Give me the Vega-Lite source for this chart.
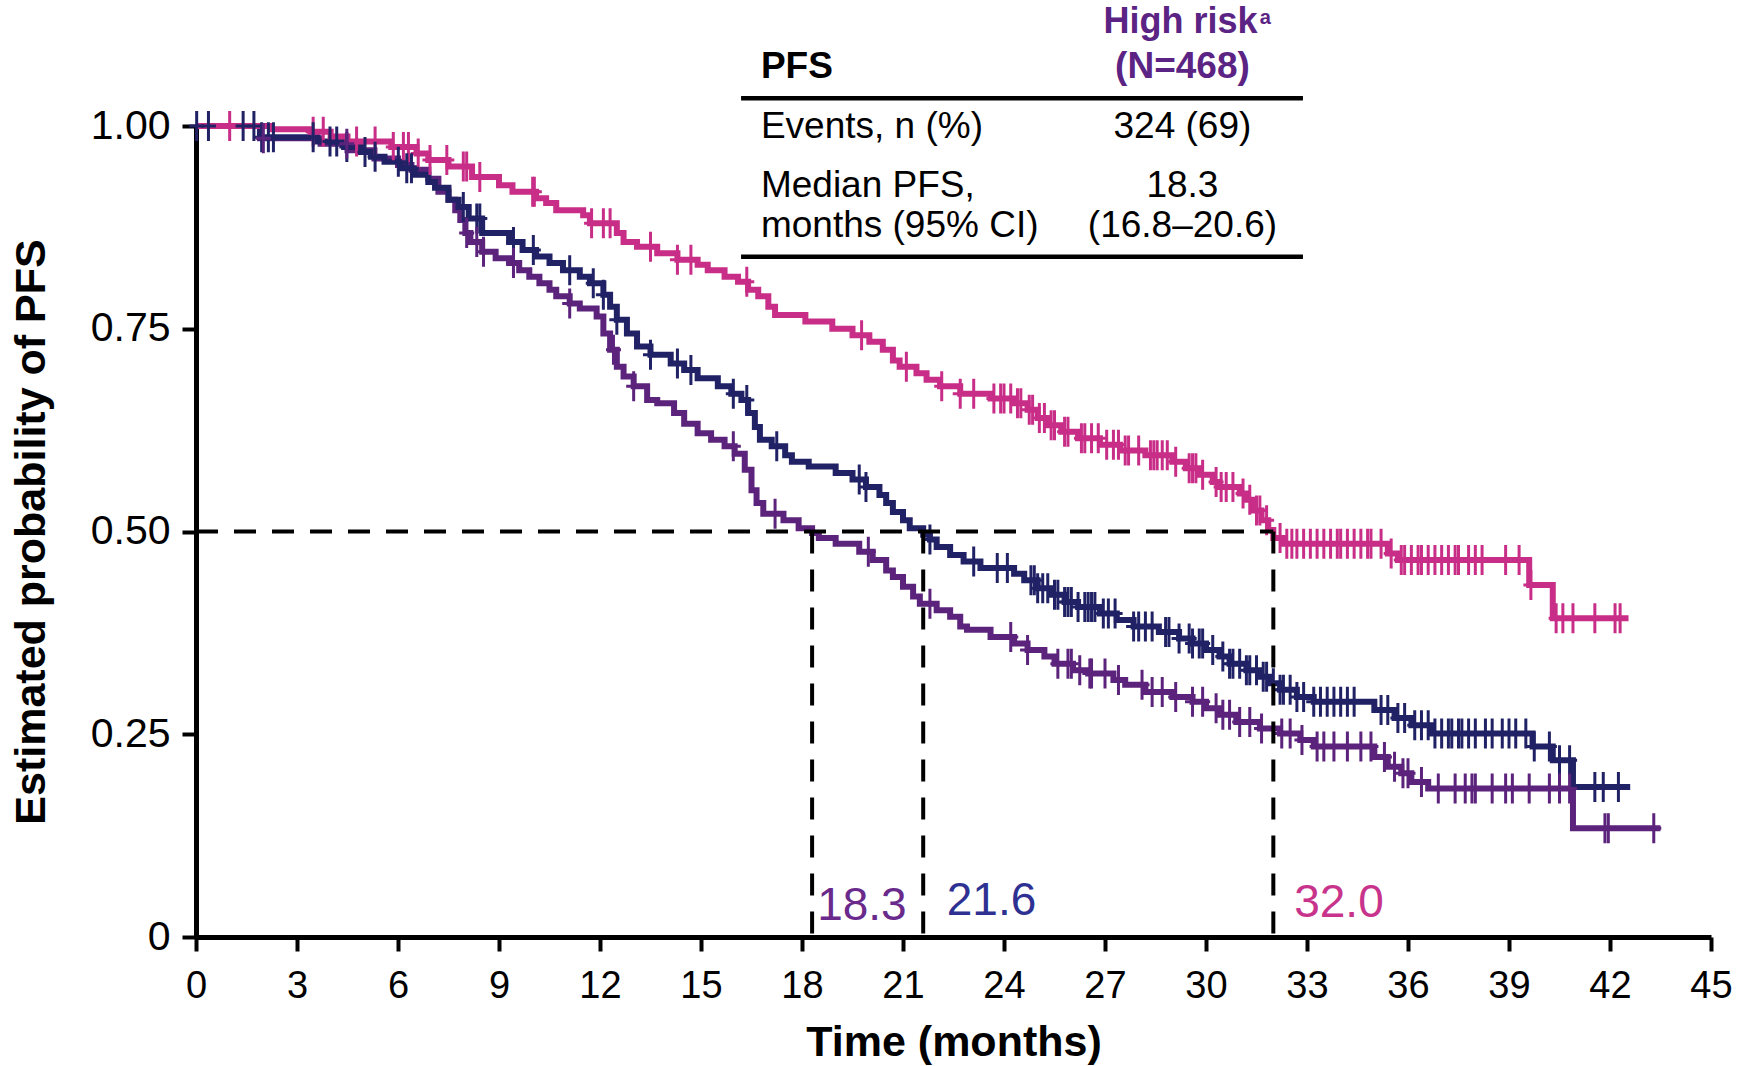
{
  "$schema": "https://vega.github.io/schema/vega-lite/v6.json",
  "width": 1515,
  "height": 811,
  "autosize": {"type": "none"},
  "padding": {"left": 196, "top": 126, "right": 37, "bottom": 129},
  "background": "white",
  "data": {"values": [{"row": 1}]},
  "config": {
    "view": {"stroke": null},
    "font": "Liberation Sans",
    "axis": {"grid": false, "domainColor": "black", "domainWidth": 5, "tickColor": "black", "tickWidth": 4, "tickSize": 14, "labelColor": "black", "titleColor": "black", "labelFont": "Liberation Sans", "titleFont": "Liberation Sans", "labelFontSize": 38, "titleFontSize": 43, "titleFontWeight": "bold"}
  },
  "datasets": {
    "curves": [
      {"arm":"High risk","t":0,"s":1.0},{"arm":"High risk","t":1.9,"s":0.985},{"arm":"High risk","t":3.7,"s":0.978},{"arm":"High risk","t":4.5,"s":0.970},{"arm":"High risk","t":5.3,"s":0.960},{"arm":"High risk","t":6.0,"s":0.952},{"arm":"High risk","t":6.4,"s":0.946},{"arm":"High risk","t":6.9,"s":0.935},{"arm":"High risk","t":7.2,"s":0.919},{"arm":"High risk","t":7.5,"s":0.909},{"arm":"High risk","t":7.7,"s":0.896},{"arm":"High risk","t":7.85,"s":0.884},{"arm":"High risk","t":8.0,"s":0.868},{"arm":"High risk","t":8.15,"s":0.857},{"arm":"High risk","t":8.5,"s":0.845},{"arm":"High risk","t":8.9,"s":0.837},{"arm":"High risk","t":9.3,"s":0.831},{"arm":"High risk","t":9.6,"s":0.822},{"arm":"High risk","t":9.9,"s":0.814},{"arm":"High risk","t":10.2,"s":0.806},{"arm":"High risk","t":10.5,"s":0.798},{"arm":"High risk","t":10.7,"s":0.790},{"arm":"High risk","t":11.1,"s":0.781},{"arm":"High risk","t":11.4,"s":0.775},{"arm":"High risk","t":11.9,"s":0.765},{"arm":"High risk","t":12.1,"s":0.744},{"arm":"High risk","t":12.3,"s":0.724},{"arm":"High risk","t":12.5,"s":0.703},{"arm":"High risk","t":12.7,"s":0.691},{"arm":"High risk","t":13.0,"s":0.679},{"arm":"High risk","t":13.4,"s":0.662},{"arm":"High risk","t":13.7,"s":0.658},{"arm":"High risk","t":14.2,"s":0.646},{"arm":"High risk","t":14.5,"s":0.633},{"arm":"High risk","t":14.9,"s":0.621},{"arm":"High risk","t":15.3,"s":0.613},{"arm":"High risk","t":15.7,"s":0.605},{"arm":"High risk","t":16.0,"s":0.596},{"arm":"High risk","t":16.3,"s":0.576},{"arm":"High risk","t":16.5,"s":0.551},{"arm":"High risk","t":16.65,"s":0.535},{"arm":"High risk","t":16.85,"s":0.522},{"arm":"High risk","t":17.45,"s":0.514},{"arm":"High risk","t":17.9,"s":0.504},{"arm":"High risk","t":18.3,"s":0.498},{"arm":"High risk","t":18.5,"s":0.492},{"arm":"High risk","t":19.0,"s":0.485},{"arm":"High risk","t":19.7,"s":0.475},{"arm":"High risk","t":20.1,"s":0.465},{"arm":"High risk","t":20.5,"s":0.452},{"arm":"High risk","t":20.7,"s":0.444},{"arm":"High risk","t":21.0,"s":0.432},{"arm":"High risk","t":21.3,"s":0.420},{"arm":"High risk","t":21.5,"s":0.411},{"arm":"High risk","t":22.0,"s":0.403},{"arm":"High risk","t":22.4,"s":0.395},{"arm":"High risk","t":22.7,"s":0.383},{"arm":"High risk","t":22.9,"s":0.379},{"arm":"High risk","t":23.6,"s":0.370},{"arm":"High risk","t":24.3,"s":0.362},{"arm":"High risk","t":24.7,"s":0.354},{"arm":"High risk","t":25.2,"s":0.346},{"arm":"High risk","t":25.5,"s":0.337},{"arm":"High risk","t":26.05,"s":0.329},{"arm":"High risk","t":26.5,"s":0.325},{"arm":"High risk","t":27.25,"s":0.317},{"arm":"High risk","t":27.6,"s":0.311},{"arm":"High risk","t":28.2,"s":0.302},{"arm":"High risk","t":29.0,"s":0.296},{"arm":"High risk","t":29.6,"s":0.290},{"arm":"High risk","t":30.0,"s":0.282},{"arm":"High risk","t":30.4,"s":0.274},{"arm":"High risk","t":30.9,"s":0.265},{"arm":"High risk","t":31.6,"s":0.257},{"arm":"High risk","t":32.2,"s":0.251},{"arm":"High risk","t":32.8,"s":0.243},{"arm":"High risk","t":33.2,"s":0.235},{"arm":"High risk","t":35.0,"s":0.222},{"arm":"High risk","t":35.4,"s":0.210},{"arm":"High risk","t":35.8,"s":0.202},{"arm":"High risk","t":36.1,"s":0.191},{"arm":"High risk","t":36.6,"s":0.183},{"arm":"High risk","t":40.9,"s":0.134},{"arm":"High risk","t":43.5,"s":0.134},
      {"arm":"Curve 2","t":0,"s":1.0},{"arm":"Curve 2","t":1.9,"s":0.986},{"arm":"Curve 2","t":3.6,"s":0.981},{"arm":"Curve 2","t":4.4,"s":0.974},{"arm":"Curve 2","t":4.9,"s":0.968},{"arm":"Curve 2","t":5.2,"s":0.962},{"arm":"Curve 2","t":5.6,"s":0.956},{"arm":"Curve 2","t":6.1,"s":0.948},{"arm":"Curve 2","t":6.5,"s":0.940},{"arm":"Curve 2","t":6.9,"s":0.931},{"arm":"Curve 2","t":7.1,"s":0.924},{"arm":"Curve 2","t":7.5,"s":0.909},{"arm":"Curve 2","t":7.8,"s":0.900},{"arm":"Curve 2","t":8.1,"s":0.886},{"arm":"Curve 2","t":8.5,"s":0.868},{"arm":"Curve 2","t":9.3,"s":0.857},{"arm":"Curve 2","t":9.7,"s":0.847},{"arm":"Curve 2","t":10.1,"s":0.839},{"arm":"Curve 2","t":10.5,"s":0.831},{"arm":"Curve 2","t":10.9,"s":0.822},{"arm":"Curve 2","t":11.4,"s":0.814},{"arm":"Curve 2","t":11.7,"s":0.806},{"arm":"Curve 2","t":12.1,"s":0.792},{"arm":"Curve 2","t":12.3,"s":0.777},{"arm":"Curve 2","t":12.5,"s":0.761},{"arm":"Curve 2","t":12.8,"s":0.744},{"arm":"Curve 2","t":13.1,"s":0.728},{"arm":"Curve 2","t":13.5,"s":0.718},{"arm":"Curve 2","t":14.1,"s":0.707},{"arm":"Curve 2","t":14.5,"s":0.699},{"arm":"Curve 2","t":14.9,"s":0.689},{"arm":"Curve 2","t":15.5,"s":0.679},{"arm":"Curve 2","t":15.9,"s":0.670},{"arm":"Curve 2","t":16.2,"s":0.662},{"arm":"Curve 2","t":16.4,"s":0.646},{"arm":"Curve 2","t":16.6,"s":0.629},{"arm":"Curve 2","t":16.75,"s":0.613},{"arm":"Curve 2","t":17.1,"s":0.605},{"arm":"Curve 2","t":17.5,"s":0.594},{"arm":"Curve 2","t":17.7,"s":0.586},{"arm":"Curve 2","t":18.2,"s":0.580},{"arm":"Curve 2","t":19.0,"s":0.572},{"arm":"Curve 2","t":19.5,"s":0.564},{"arm":"Curve 2","t":19.9,"s":0.555},{"arm":"Curve 2","t":20.3,"s":0.545},{"arm":"Curve 2","t":20.5,"s":0.535},{"arm":"Curve 2","t":20.7,"s":0.524},{"arm":"Curve 2","t":21.0,"s":0.514},{"arm":"Curve 2","t":21.2,"s":0.504},{"arm":"Curve 2","t":21.6,"s":0.496},{"arm":"Curve 2","t":21.8,"s":0.490},{"arm":"Curve 2","t":22.0,"s":0.481},{"arm":"Curve 2","t":22.4,"s":0.471},{"arm":"Curve 2","t":22.8,"s":0.463},{"arm":"Curve 2","t":23.3,"s":0.455},{"arm":"Curve 2","t":24.3,"s":0.448},{"arm":"Curve 2","t":24.6,"s":0.440},{"arm":"Curve 2","t":25.0,"s":0.430},{"arm":"Curve 2","t":25.4,"s":0.422},{"arm":"Curve 2","t":25.8,"s":0.413},{"arm":"Curve 2","t":26.2,"s":0.407},{"arm":"Curve 2","t":26.85,"s":0.399},{"arm":"Curve 2","t":27.35,"s":0.391},{"arm":"Curve 2","t":27.85,"s":0.383},{"arm":"Curve 2","t":28.6,"s":0.376},{"arm":"Curve 2","t":29.2,"s":0.368},{"arm":"Curve 2","t":29.6,"s":0.362},{"arm":"Curve 2","t":30.0,"s":0.354},{"arm":"Curve 2","t":30.4,"s":0.346},{"arm":"Curve 2","t":30.7,"s":0.337},{"arm":"Curve 2","t":31.2,"s":0.329},{"arm":"Curve 2","t":31.6,"s":0.321},{"arm":"Curve 2","t":31.9,"s":0.313},{"arm":"Curve 2","t":32.2,"s":0.305},{"arm":"Curve 2","t":32.7,"s":0.296},{"arm":"Curve 2","t":33.2,"s":0.290},{"arm":"Curve 2","t":35.0,"s":0.280},{"arm":"Curve 2","t":35.6,"s":0.270},{"arm":"Curve 2","t":36.1,"s":0.261},{"arm":"Curve 2","t":36.7,"s":0.251},{"arm":"Curve 2","t":39.7,"s":0.235},{"arm":"Curve 2","t":40.3,"s":0.218},{"arm":"Curve 2","t":40.9,"s":0.185},{"arm":"Curve 2","t":42.6,"s":0.185},
      {"arm":"Curve 3","t":0,"s":1.0},{"arm":"Curve 3","t":2.2,"s":0.996},{"arm":"Curve 3","t":3.4,"s":0.993},{"arm":"Curve 3","t":4.0,"s":0.987},{"arm":"Curve 3","t":4.5,"s":0.981},{"arm":"Curve 3","t":5.8,"s":0.974},{"arm":"Curve 3","t":6.55,"s":0.966},{"arm":"Curve 3","t":6.9,"s":0.958},{"arm":"Curve 3","t":7.5,"s":0.950},{"arm":"Curve 3","t":8.2,"s":0.937},{"arm":"Curve 3","t":9.0,"s":0.927},{"arm":"Curve 3","t":9.4,"s":0.919},{"arm":"Curve 3","t":10.1,"s":0.911},{"arm":"Curve 3","t":10.4,"s":0.905},{"arm":"Curve 3","t":10.7,"s":0.896},{"arm":"Curve 3","t":11.5,"s":0.890},{"arm":"Curve 3","t":11.7,"s":0.880},{"arm":"Curve 3","t":12.5,"s":0.868},{"arm":"Curve 3","t":12.7,"s":0.857},{"arm":"Curve 3","t":13.1,"s":0.851},{"arm":"Curve 3","t":13.7,"s":0.843},{"arm":"Curve 3","t":14.3,"s":0.835},{"arm":"Curve 3","t":14.9,"s":0.829},{"arm":"Curve 3","t":15.2,"s":0.822},{"arm":"Curve 3","t":15.7,"s":0.814},{"arm":"Curve 3","t":16.1,"s":0.808},{"arm":"Curve 3","t":16.4,"s":0.798},{"arm":"Curve 3","t":16.7,"s":0.790},{"arm":"Curve 3","t":17.0,"s":0.777},{"arm":"Curve 3","t":17.2,"s":0.767},{"arm":"Curve 3","t":18.1,"s":0.759},{"arm":"Curve 3","t":18.9,"s":0.750},{"arm":"Curve 3","t":19.5,"s":0.742},{"arm":"Curve 3","t":20.0,"s":0.734},{"arm":"Curve 3","t":20.4,"s":0.724},{"arm":"Curve 3","t":20.7,"s":0.711},{"arm":"Curve 3","t":20.9,"s":0.703},{"arm":"Curve 3","t":21.4,"s":0.695},{"arm":"Curve 3","t":21.7,"s":0.687},{"arm":"Curve 3","t":22.1,"s":0.679},{"arm":"Curve 3","t":22.7,"s":0.670},{"arm":"Curve 3","t":23.6,"s":0.664},{"arm":"Curve 3","t":24.3,"s":0.658},{"arm":"Curve 3","t":24.7,"s":0.650},{"arm":"Curve 3","t":25.0,"s":0.640},{"arm":"Curve 3","t":25.3,"s":0.631},{"arm":"Curve 3","t":25.7,"s":0.623},{"arm":"Curve 3","t":26.2,"s":0.615},{"arm":"Curve 3","t":26.85,"s":0.607},{"arm":"Curve 3","t":27.45,"s":0.600},{"arm":"Curve 3","t":28.2,"s":0.594},{"arm":"Curve 3","t":29.0,"s":0.586},{"arm":"Curve 3","t":29.4,"s":0.578},{"arm":"Curve 3","t":29.8,"s":0.570},{"arm":"Curve 3","t":30.2,"s":0.561},{"arm":"Curve 3","t":30.4,"s":0.555},{"arm":"Curve 3","t":31.0,"s":0.547},{"arm":"Curve 3","t":31.2,"s":0.539},{"arm":"Curve 3","t":31.4,"s":0.526},{"arm":"Curve 3","t":31.65,"s":0.514},{"arm":"Curve 3","t":31.85,"s":0.502},{"arm":"Curve 3","t":32.0,"s":0.492},{"arm":"Curve 3","t":32.3,"s":0.485},{"arm":"Curve 3","t":35.4,"s":0.473},{"arm":"Curve 3","t":35.7,"s":0.465},{"arm":"Curve 3","t":39.6,"s":0.434},{"arm":"Curve 3","t":40.3,"s":0.393},{"arm":"Curve 3","t":42.55,"s":0.393}
    ],
    "censors": [
      {"arm":"Curve 3","t":1.0,"s":1.0},{"arm":"Curve 3","t":3.48,"s":0.993},{"arm":"Curve 3","t":3.78,"s":0.993},{"arm":"Curve 3","t":4.77,"s":0.981},{"arm":"Curve 3","t":5.32,"s":0.981},{"arm":"Curve 3","t":5.86,"s":0.974},{"arm":"Curve 3","t":6.16,"s":0.974},{"arm":"Curve 3","t":6.31,"s":0.974},{"arm":"Curve 3","t":6.6,"s":0.966},{"arm":"Curve 3","t":6.95,"s":0.958},{"arm":"Curve 3","t":7.45,"s":0.958},{"arm":"Curve 3","t":7.94,"s":0.950},{"arm":"Curve 3","t":8.04,"s":0.950},{"arm":"Curve 3","t":8.43,"s":0.937},{"arm":"Curve 3","t":10.0,"s":0.919},{"arm":"Curve 3","t":10.05,"s":0.919},{"arm":"Curve 3","t":11.75,"s":0.880},{"arm":"Curve 3","t":12.1,"s":0.880},{"arm":"Curve 3","t":12.3,"s":0.880},{"arm":"Curve 3","t":13.5,"s":0.851},{"arm":"Curve 3","t":14.3,"s":0.835},{"arm":"Curve 3","t":14.7,"s":0.835},{"arm":"Curve 3","t":16.36,"s":0.808},{"arm":"Curve 3","t":19.77,"s":0.742},{"arm":"Curve 3","t":21.1,"s":0.703},{"arm":"Curve 3","t":22.15,"s":0.679},{"arm":"Curve 3","t":22.7,"s":0.670},{"arm":"Curve 3","t":23.1,"s":0.670},{"arm":"Curve 3","t":23.7,"s":0.664},{"arm":"Curve 3","t":23.9,"s":0.664},{"arm":"Curve 3","t":24.0,"s":0.664},{"arm":"Curve 3","t":24.2,"s":0.664},{"arm":"Curve 3","t":24.4,"s":0.658},{"arm":"Curve 3","t":24.5,"s":0.658},{"arm":"Curve 3","t":24.75,"s":0.650},{"arm":"Curve 3","t":24.85,"s":0.650},{"arm":"Curve 3","t":25.05,"s":0.640},{"arm":"Curve 3","t":25.2,"s":0.640},{"arm":"Curve 3","t":25.4,"s":0.631},{"arm":"Curve 3","t":25.5,"s":0.631},{"arm":"Curve 3","t":25.8,"s":0.623},{"arm":"Curve 3","t":25.9,"s":0.623},{"arm":"Curve 3","t":26.3,"s":0.615},{"arm":"Curve 3","t":26.4,"s":0.615},{"arm":"Curve 3","t":26.6,"s":0.615},{"arm":"Curve 3","t":26.8,"s":0.615},{"arm":"Curve 3","t":27.05,"s":0.607},{"arm":"Curve 3","t":27.25,"s":0.607},{"arm":"Curve 3","t":27.4,"s":0.607},{"arm":"Curve 3","t":27.6,"s":0.600},{"arm":"Curve 3","t":27.7,"s":0.600},{"arm":"Curve 3","t":28.0,"s":0.600},{"arm":"Curve 3","t":28.35,"s":0.594},{"arm":"Curve 3","t":28.45,"s":0.594},{"arm":"Curve 3","t":28.55,"s":0.594},{"arm":"Curve 3","t":28.7,"s":0.594},{"arm":"Curve 3","t":28.85,"s":0.594},{"arm":"Curve 3","t":29.1,"s":0.586},{"arm":"Curve 3","t":29.5,"s":0.578},{"arm":"Curve 3","t":29.6,"s":0.578},{"arm":"Curve 3","t":29.7,"s":0.578},{"arm":"Curve 3","t":29.9,"s":0.570},{"arm":"Curve 3","t":30.3,"s":0.561},{"arm":"Curve 3","t":30.45,"s":0.555},{"arm":"Curve 3","t":30.6,"s":0.555},{"arm":"Curve 3","t":30.8,"s":0.555},{"arm":"Curve 3","t":31.1,"s":0.547},{"arm":"Curve 3","t":31.3,"s":0.539},{"arm":"Curve 3","t":31.5,"s":0.526},{"arm":"Curve 3","t":31.6,"s":0.526},{"arm":"Curve 3","t":31.8,"s":0.514},{"arm":"Curve 3","t":32.2,"s":0.492},{"arm":"Curve 3","t":32.4,"s":0.485},{"arm":"Curve 3","t":32.55,"s":0.485},{"arm":"Curve 3","t":32.7,"s":0.485},{"arm":"Curve 3","t":32.9,"s":0.485},{"arm":"Curve 3","t":33.1,"s":0.485},{"arm":"Curve 3","t":33.3,"s":0.485},{"arm":"Curve 3","t":33.5,"s":0.485},{"arm":"Curve 3","t":33.7,"s":0.485},{"arm":"Curve 3","t":33.9,"s":0.485},{"arm":"Curve 3","t":34.0,"s":0.485},{"arm":"Curve 3","t":34.2,"s":0.485},{"arm":"Curve 3","t":34.4,"s":0.485},{"arm":"Curve 3","t":34.6,"s":0.485},{"arm":"Curve 3","t":34.8,"s":0.485},{"arm":"Curve 3","t":34.9,"s":0.485},{"arm":"Curve 3","t":35.2,"s":0.485},{"arm":"Curve 3","t":35.5,"s":0.473},{"arm":"Curve 3","t":35.8,"s":0.465},{"arm":"Curve 3","t":35.9,"s":0.465},{"arm":"Curve 3","t":36.1,"s":0.465},{"arm":"Curve 3","t":36.3,"s":0.465},{"arm":"Curve 3","t":36.4,"s":0.465},{"arm":"Curve 3","t":36.6,"s":0.465},{"arm":"Curve 3","t":36.8,"s":0.465},{"arm":"Curve 3","t":37.0,"s":0.465},{"arm":"Curve 3","t":37.2,"s":0.465},{"arm":"Curve 3","t":37.4,"s":0.465},{"arm":"Curve 3","t":37.5,"s":0.465},{"arm":"Curve 3","t":37.8,"s":0.465},{"arm":"Curve 3","t":38.0,"s":0.465},{"arm":"Curve 3","t":38.2,"s":0.465},{"arm":"Curve 3","t":38.9,"s":0.465},{"arm":"Curve 3","t":39.3,"s":0.465},{"arm":"Curve 3","t":39.65,"s":0.434},{"arm":"Curve 3","t":40.4,"s":0.393},{"arm":"Curve 3","t":40.6,"s":0.393},{"arm":"Curve 3","t":40.9,"s":0.393},{"arm":"Curve 3","t":41.55,"s":0.393},{"arm":"Curve 3","t":42.15,"s":0.393},{"arm":"Curve 3","t":42.3,"s":0.393},
      {"arm":"Curve 2","t":0.02,"s":1.0},{"arm":"Curve 2","t":0.37,"s":1.0},{"arm":"Curve 2","t":1.4,"s":1.0},{"arm":"Curve 2","t":1.72,"s":1.0},{"arm":"Curve 2","t":1.95,"s":0.986},{"arm":"Curve 2","t":2.15,"s":0.986},{"arm":"Curve 2","t":2.3,"s":0.986},{"arm":"Curve 2","t":3.48,"s":0.986},{"arm":"Curve 2","t":3.98,"s":0.981},{"arm":"Curve 2","t":4.18,"s":0.981},{"arm":"Curve 2","t":4.48,"s":0.974},{"arm":"Curve 2","t":5.02,"s":0.968},{"arm":"Curve 2","t":5.32,"s":0.962},{"arm":"Curve 2","t":6.01,"s":0.956},{"arm":"Curve 2","t":6.26,"s":0.948},{"arm":"Curve 2","t":6.4,"s":0.948},{"arm":"Curve 2","t":7.94,"s":0.900},{"arm":"Curve 2","t":8.34,"s":0.886},{"arm":"Curve 2","t":8.43,"s":0.886},{"arm":"Curve 2","t":9.43,"s":0.857},{"arm":"Curve 2","t":10.02,"s":0.847},{"arm":"Curve 2","t":11.1,"s":0.822},{"arm":"Curve 2","t":11.8,"s":0.806},{"arm":"Curve 2","t":12.1,"s":0.792},{"arm":"Curve 2","t":12.5,"s":0.761},{"arm":"Curve 2","t":13.5,"s":0.718},{"arm":"Curve 2","t":14.3,"s":0.707},{"arm":"Curve 2","t":14.7,"s":0.699},{"arm":"Curve 2","t":15.96,"s":0.670},{"arm":"Curve 2","t":16.36,"s":0.662},{"arm":"Curve 2","t":17.25,"s":0.605},{"arm":"Curve 2","t":19.7,"s":0.564},{"arm":"Curve 2","t":19.9,"s":0.555},{"arm":"Curve 2","t":21.8,"s":0.490},{"arm":"Curve 2","t":23.1,"s":0.463},{"arm":"Curve 2","t":23.8,"s":0.455},{"arm":"Curve 2","t":24.1,"s":0.455},{"arm":"Curve 2","t":24.8,"s":0.440},{"arm":"Curve 2","t":24.9,"s":0.440},{"arm":"Curve 2","t":25.0,"s":0.430},{"arm":"Curve 2","t":25.15,"s":0.430},{"arm":"Curve 2","t":25.3,"s":0.430},{"arm":"Curve 2","t":25.5,"s":0.422},{"arm":"Curve 2","t":25.6,"s":0.422},{"arm":"Curve 2","t":25.8,"s":0.413},{"arm":"Curve 2","t":25.9,"s":0.413},{"arm":"Curve 2","t":26.0,"s":0.413},{"arm":"Curve 2","t":26.2,"s":0.407},{"arm":"Curve 2","t":26.4,"s":0.407},{"arm":"Curve 2","t":26.5,"s":0.407},{"arm":"Curve 2","t":26.6,"s":0.407},{"arm":"Curve 2","t":26.7,"s":0.407},{"arm":"Curve 2","t":26.95,"s":0.399},{"arm":"Curve 2","t":27.1,"s":0.399},{"arm":"Curve 2","t":27.3,"s":0.399},{"arm":"Curve 2","t":27.85,"s":0.383},{"arm":"Curve 2","t":28.0,"s":0.383},{"arm":"Curve 2","t":28.2,"s":0.383},{"arm":"Curve 2","t":28.4,"s":0.383},{"arm":"Curve 2","t":28.8,"s":0.376},{"arm":"Curve 2","t":28.9,"s":0.376},{"arm":"Curve 2","t":29.2,"s":0.368},{"arm":"Curve 2","t":29.5,"s":0.368},{"arm":"Curve 2","t":29.6,"s":0.362},{"arm":"Curve 2","t":29.8,"s":0.362},{"arm":"Curve 2","t":29.9,"s":0.362},{"arm":"Curve 2","t":30.2,"s":0.354},{"arm":"Curve 2","t":30.5,"s":0.346},{"arm":"Curve 2","t":30.7,"s":0.337},{"arm":"Curve 2","t":30.8,"s":0.337},{"arm":"Curve 2","t":31.0,"s":0.337},{"arm":"Curve 2","t":31.2,"s":0.329},{"arm":"Curve 2","t":31.3,"s":0.329},{"arm":"Curve 2","t":31.5,"s":0.329},{"arm":"Curve 2","t":31.7,"s":0.321},{"arm":"Curve 2","t":31.8,"s":0.321},{"arm":"Curve 2","t":32.0,"s":0.313},{"arm":"Curve 2","t":32.2,"s":0.305},{"arm":"Curve 2","t":32.3,"s":0.305},{"arm":"Curve 2","t":32.5,"s":0.305},{"arm":"Curve 2","t":32.7,"s":0.296},{"arm":"Curve 2","t":32.9,"s":0.296},{"arm":"Curve 2","t":33.2,"s":0.290},{"arm":"Curve 2","t":33.4,"s":0.290},{"arm":"Curve 2","t":33.6,"s":0.290},{"arm":"Curve 2","t":33.8,"s":0.290},{"arm":"Curve 2","t":34.0,"s":0.290},{"arm":"Curve 2","t":34.2,"s":0.290},{"arm":"Curve 2","t":34.4,"s":0.290},{"arm":"Curve 2","t":35.2,"s":0.280},{"arm":"Curve 2","t":35.4,"s":0.280},{"arm":"Curve 2","t":35.7,"s":0.270},{"arm":"Curve 2","t":35.9,"s":0.270},{"arm":"Curve 2","t":36.2,"s":0.261},{"arm":"Curve 2","t":36.4,"s":0.261},{"arm":"Curve 2","t":36.6,"s":0.261},{"arm":"Curve 2","t":36.8,"s":0.251},{"arm":"Curve 2","t":37.0,"s":0.251},{"arm":"Curve 2","t":37.2,"s":0.251},{"arm":"Curve 2","t":37.3,"s":0.251},{"arm":"Curve 2","t":37.5,"s":0.251},{"arm":"Curve 2","t":37.6,"s":0.251},{"arm":"Curve 2","t":37.8,"s":0.251},{"arm":"Curve 2","t":38.0,"s":0.251},{"arm":"Curve 2","t":38.3,"s":0.251},{"arm":"Curve 2","t":38.5,"s":0.251},{"arm":"Curve 2","t":38.8,"s":0.251},{"arm":"Curve 2","t":39.0,"s":0.251},{"arm":"Curve 2","t":39.2,"s":0.251},{"arm":"Curve 2","t":39.5,"s":0.251},{"arm":"Curve 2","t":39.75,"s":0.235},{"arm":"Curve 2","t":40.2,"s":0.235},{"arm":"Curve 2","t":40.5,"s":0.218},{"arm":"Curve 2","t":40.8,"s":0.218},{"arm":"Curve 2","t":41.55,"s":0.185},{"arm":"Curve 2","t":41.8,"s":0.185},{"arm":"Curve 2","t":42.25,"s":0.185},
      {"arm":"High risk","t":2.0,"s":0.985},{"arm":"High risk","t":4.48,"s":0.978},{"arm":"High risk","t":8.04,"s":0.868},{"arm":"High risk","t":8.34,"s":0.857},{"arm":"High risk","t":8.54,"s":0.845},{"arm":"High risk","t":9.43,"s":0.831},{"arm":"High risk","t":11.1,"s":0.781},{"arm":"High risk","t":12.4,"s":0.724},{"arm":"High risk","t":13.0,"s":0.679},{"arm":"High risk","t":15.96,"s":0.605},{"arm":"High risk","t":17.2,"s":0.522},{"arm":"High risk","t":19.97,"s":0.475},{"arm":"High risk","t":21.8,"s":0.411},{"arm":"High risk","t":24.2,"s":0.370},{"arm":"High risk","t":24.7,"s":0.354},{"arm":"High risk","t":25.6,"s":0.337},{"arm":"High risk","t":25.9,"s":0.337},{"arm":"High risk","t":26.0,"s":0.337},{"arm":"High risk","t":26.25,"s":0.329},{"arm":"High risk","t":26.55,"s":0.325},{"arm":"High risk","t":26.6,"s":0.325},{"arm":"High risk","t":27.0,"s":0.325},{"arm":"High risk","t":27.4,"s":0.317},{"arm":"High risk","t":28.1,"s":0.311},{"arm":"High risk","t":28.4,"s":0.302},{"arm":"High risk","t":28.7,"s":0.302},{"arm":"High risk","t":29.1,"s":0.296},{"arm":"High risk","t":29.6,"s":0.290},{"arm":"High risk","t":29.9,"s":0.290},{"arm":"High risk","t":30.3,"s":0.282},{"arm":"High risk","t":30.5,"s":0.274},{"arm":"High risk","t":30.7,"s":0.274},{"arm":"High risk","t":31.0,"s":0.265},{"arm":"High risk","t":31.3,"s":0.265},{"arm":"High risk","t":31.65,"s":0.257},{"arm":"High risk","t":32.25,"s":0.251},{"arm":"High risk","t":32.5,"s":0.251},{"arm":"High risk","t":32.85,"s":0.243},{"arm":"High risk","t":33.3,"s":0.235},{"arm":"High risk","t":33.5,"s":0.235},{"arm":"High risk","t":33.8,"s":0.235},{"arm":"High risk","t":34.2,"s":0.235},{"arm":"High risk","t":34.6,"s":0.235},{"arm":"High risk","t":34.9,"s":0.235},{"arm":"High risk","t":35.3,"s":0.222},{"arm":"High risk","t":35.6,"s":0.210},{"arm":"High risk","t":35.85,"s":0.202},{"arm":"High risk","t":36.0,"s":0.202},{"arm":"High risk","t":36.4,"s":0.191},{"arm":"High risk","t":36.9,"s":0.183},{"arm":"High risk","t":37.4,"s":0.183},{"arm":"High risk","t":37.7,"s":0.183},{"arm":"High risk","t":37.9,"s":0.183},{"arm":"High risk","t":38.0,"s":0.183},{"arm":"High risk","t":38.5,"s":0.183},{"arm":"High risk","t":38.9,"s":0.183},{"arm":"High risk","t":39.1,"s":0.183},{"arm":"High risk","t":39.6,"s":0.183},{"arm":"High risk","t":40.2,"s":0.183},{"arm":"High risk","t":40.5,"s":0.183},{"arm":"High risk","t":40.8,"s":0.183},{"arm":"High risk","t":41.85,"s":0.134},{"arm":"High risk","t":41.95,"s":0.134},{"arm":"High risk","t":43.3,"s":0.134}
    ],
    "medians": [
      {"arm":"High risk","median":18.3},
      {"arm":"Curve 2","median":21.6},
      {"arm":"Curve 3","median":32.0}
    ]
  },
  "layer": [
    {
      "data": {"name": "curves"},
      "mark": {"type": "line", "interpolate": "step-after", "strokeWidth": 6},
      "encoding": {
        "x": {"field": "t", "type": "quantitative", "scale": {"domain": [0, 45], "nice": false, "zero": false},
          "axis": {"title": "Time (months)", "values": [0,3,6,9,12,15,18,21,24,27,30,33,36,39,42,45], "labelPadding": 16, "titlePadding": 16, "labelFlush": false}},
        "y": {"field": "s", "type": "quantitative", "scale": {"domain": [0, 1], "nice": false},
          "axis": {"title": "Estimated probability of PFS", "values": [0, 0.25, 0.5, 0.75, 1], "labelExpr": "datum.value == 0 ? '0' : format(datum.value, '.2f')", "labelFontSize": 41, "labelPadding": 12, "titlePadding": 37}},
        "color": {"field": "arm", "type": "nominal", "scale": {"domain": ["High risk", "Curve 2", "Curve 3"], "range": ["#5C237C", "#212266", "#C82E87"]}, "legend": null}
      }
    },
    {
      "data": {"name": "censors"},
      "mark": {"type": "point", "shape": "M-0.5,0L0.5,0M0,-1L0,1", "size": 900, "filled": false, "strokeWidth": 3, "opacity": 1},
      "encoding": {
        "x": {"field": "t", "type": "quantitative"},
        "y": {"field": "s", "type": "quantitative"},
        "color": {"field": "arm", "type": "nominal", "legend": null}
      }
    },
    {
      "mark": {"type": "rule", "color": "black", "strokeWidth": 4, "strokeDash": [22, 16]},
      "encoding": {
        "x": {"datum": 0, "type": "quantitative"},
        "x2": {"datum": 32.0},
        "y": {"datum": 0.5, "type": "quantitative"}
      }
    },
    {
      "data": {"name": "medians"},
      "mark": {"type": "rule", "color": "black", "strokeWidth": 4, "strokeDash": [22, 16]},
      "encoding": {
        "x": {"field": "median", "type": "quantitative"},
        "y": {"datum": 0.5, "type": "quantitative"},
        "y2": {"datum": 0}
      }
    },
    {
      "mark": {"type": "text", "text": "18.3", "fontSize": 46, "align": "left", "baseline": "alphabetic", "color": "#6A2A8C"},
      "encoding": {"x": {"datum": 18.45, "type": "quantitative"}, "y": {"datum": 0.021, "type": "quantitative"}}
    },
    {
      "mark": {"type": "text", "text": "21.6", "fontSize": 46, "align": "left", "baseline": "alphabetic", "color": "#2E3192"},
      "encoding": {"x": {"datum": 22.3, "type": "quantitative"}, "y": {"datum": 0.027, "type": "quantitative"}}
    },
    {
      "mark": {"type": "text", "text": "32.0", "fontSize": 46, "align": "left", "baseline": "alphabetic", "color": "#C8338C"},
      "encoding": {"x": {"datum": 32.62, "type": "quantitative"}, "y": {"datum": 0.025, "type": "quantitative"}}
    },
    {
      "mark": {"type": "rule", "color": "black", "strokeWidth": 4.5},
      "encoding": {"x": {"datum": 16.19, "type": "quantitative"}, "x2": {"datum": 32.88}, "y": {"datum": 1.0341, "type": "quantitative"}}
    },
    {
      "mark": {"type": "rule", "color": "black", "strokeWidth": 4.5},
      "encoding": {"x": {"datum": 16.19, "type": "quantitative"}, "x2": {"datum": 32.88}, "y": {"datum": 0.8388, "type": "quantitative"}}
    },
    {
      "mark": {"type": "text", "text": "PFS", "fontSize": 37, "fontWeight": "bold", "align": "left", "baseline": "alphabetic", "color": "black"},
      "encoding": {"x": {"datum": 16.78, "type": "quantitative"}, "y": {"datum": 1.0588, "type": "quantitative"}}
    },
    {
      "mark": {"type": "text", "text": "High risk", "fontSize": 36, "fontWeight": "bold", "align": "center", "baseline": "alphabetic", "color": "#5B2383"},
      "encoding": {"x": {"datum": 29.24, "type": "quantitative"}, "y": {"datum": 1.1143, "type": "quantitative"}}
    },
    {
      "mark": {"type": "text", "text": "a", "fontSize": 20, "fontWeight": "bold", "align": "left", "baseline": "alphabetic", "color": "#5B2383"},
      "encoding": {"x": {"datum": 31.6, "type": "quantitative"}, "y": {"datum": 1.1258, "type": "quantitative"}}
    },
    {
      "mark": {"type": "text", "text": "(N=468)", "fontSize": 37, "fontWeight": "bold", "align": "center", "baseline": "alphabetic", "color": "#5B2383"},
      "encoding": {"x": {"datum": 29.3, "type": "quantitative"}, "y": {"datum": 1.0588, "type": "quantitative"}}
    },
    {
      "mark": {"type": "text", "text": "Events, n (%)", "fontSize": 37, "align": "left", "baseline": "alphabetic", "color": "black"},
      "encoding": {"x": {"datum": 16.78, "type": "quantitative"}, "y": {"datum": 0.985, "type": "quantitative"}}
    },
    {
      "mark": {"type": "text", "text": "324 (69)", "fontSize": 37, "align": "center", "baseline": "alphabetic", "color": "black"},
      "encoding": {"x": {"datum": 29.3, "type": "quantitative"}, "y": {"datum": 0.985, "type": "quantitative"}}
    },
    {
      "mark": {"type": "text", "text": "Median PFS,", "fontSize": 37, "align": "left", "baseline": "alphabetic", "color": "black"},
      "encoding": {"x": {"datum": 16.78, "type": "quantitative"}, "y": {"datum": 0.9129, "type": "quantitative"}}
    },
    {
      "mark": {"type": "text", "text": "months (95% CI)", "fontSize": 37, "align": "left", "baseline": "alphabetic", "color": "black"},
      "encoding": {"x": {"datum": 16.78, "type": "quantitative"}, "y": {"datum": 0.8635, "type": "quantitative"}}
    },
    {
      "mark": {"type": "text", "text": "18.3", "fontSize": 37, "align": "center", "baseline": "alphabetic", "color": "black"},
      "encoding": {"x": {"datum": 29.3, "type": "quantitative"}, "y": {"datum": 0.9129, "type": "quantitative"}}
    },
    {
      "mark": {"type": "text", "text": "(16.8–20.6)", "fontSize": 37, "align": "center", "baseline": "alphabetic", "color": "black"},
      "encoding": {"x": {"datum": 29.3, "type": "quantitative"}, "y": {"datum": 0.8635, "type": "quantitative"}}
    }
  ]
}
